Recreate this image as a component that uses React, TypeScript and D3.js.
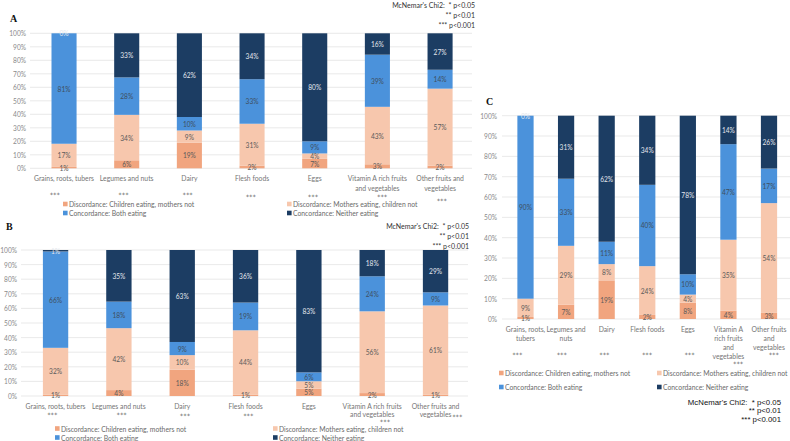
import React, { useEffect, useRef } from "react";
import * as d3 from "d3";

// segment order, bottom to top
const keys = ["childOnly", "motherOnly", "both", "neither"];
const legendNames = [
  "Discordance: Children eating, mothers not",
  "Discordance: Mothers eating, children not",
  "Concordance: Both eating",
  "Concordance: Neither eating",
];
const colors = ["#F1A57F", "#F7C7AD", "#4B92DB", "#1C3D63"];
const labelColors = ["#5a5a5a", "#5a5a5a", "#3f4f60", "#e4e8ee"];

const yTicks = [0, 10, 20, 30, 40, 50, 60, 70, 80, 90, 100];

const foodGroups = [
  "Grains, roots, tubers",
  "Legumes and nuts",
  "Dairy",
  "Flesh foods",
  "Eggs",
  "Vitamin A rich fruits and vegetables",
  "Other fruits and vegetables",
];
const wideLabels = [
  ["Grains, roots, tubers"],
  ["Legumes and nuts"],
  ["Dairy"],
  ["Flesh foods"],
  ["Eggs"],
  ["Vitamin A rich fruits", "and vegetables"],
  ["Other fruits and", "vegetables"],
];
const narrowLabels = [
  ["Grains, roots,", "tubers"],
  ["Legumes and", "nuts"],
  ["Dairy"],
  ["Flesh foods"],
  ["Eggs"],
  ["Vitamin A", "rich fruits", "and", "vegetables"],
  ["Other fruits", "and", "vegetables"],
];

// panel A
const aChildOnly = [1, 6, 19, 2, 7, 3, 2];
const aMotherOnly = [17, 34, 9, 31, 4, 43, 57];
const aBoth = [81, 28, 10, 33, 9, 39, 14];
const aNeither = [0, 33, 62, 34, 80, 16, 27];
const aStars = ["***", "***", "***", "***", "***", "***", "***"];

// panel B
const bChildOnly = [1, 4, 18, 1, 5, 2, 1];
const bMotherOnly = [32, 42, 10, 44, 5, 56, 61];
const bBoth = [66, 18, 9, 19, 6, 24, 9];
const bNeither = [1, 35, 63, 36, 83, 18, 29];
const bStars = ["***", "***", "***", "***", "", "***", "***"];

// panel C
const cChildOnly = [1, 7, 19, 2, 8, 4, 3];
const cMotherOnly = [9, 29, 8, 24, 4, 35, 54];
const cBoth = [90, 33, 11, 40, 10, 47, 17];
const cNeither = [0, 31, 62, 34, 78, 14, 26];
const cStars = ["***", "***", "***", "***", "***", "***", "***"];

const noteLines = ["McNemar's Chi2:  * p<0.05", "** p<0.01", "*** p<0.001"];

const FONT = "Lato, 'Open Sans', sans-serif";

function rows(child, mother, both, neither) {
  return foodGroups.map((g, i) => ({
    group: g,
    childOnly: child[i],
    motherOnly: mother[i],
    both: both[i],
    neither: neither[i],
  }));
}

const panels = [
  {
    title: "A", titleX: 10, titleY: 22,
    data: rows(aChildOnly, aMotherOnly, aBoth, aNeither),
    labels: wideLabels, stars: aStars,
    x0: 32.7, x1: 471.4, yTop: 33.3, yBottom: 168.3,
    tickX: 26, gridX0: 30, gridX1: 472,
    catY: 178, catStep: 9.5,
    starPos: [[-9, 194], [-3, 194], [-1.5, 194], [-1, 196], [-1.5, 196], [5, 196], [2, 200]],
    legendRows: [204, 213], legendCols: [63, 287],
    note: { x: 475, ys: [4.5, 14.5, 24.5], size: 7, font: FONT, color: "#333" },
  },
  {
    title: "B", titleX: 6, titleY: 230,
    data: rows(bChildOnly, bMotherOnly, bBoth, bNeither),
    labels: wideLabels, stars: bStars,
    x0: 23.9, x1: 467.2, yTop: 250, yBottom: 396,
    tickX: 17, gridX0: 21, gridX1: 468,
    catY: 406, catStep: 8,
    starPos: [[-3, 414], [3, 414], [3, 415.5], [3, 415.5], [0, 415.5], [13, 421], [22, 416.5]],
    legendRows: [428.5, 437.5], legendCols: [55, 273],
    note: { x: 469, ys: [226, 236, 246], size: 7, font: FONT, color: "#333" },
  },
  {
    title: "C", titleX: 486, titleY: 105,
    data: rows(cChildOnly, cMotherOnly, cBoth, cNeither),
    labels: narrowLabels, stars: cStars,
    x0: 505.2, x1: 789.3, yTop: 115.7, yBottom: 319,
    tickX: 497, gridX0: 502, gridX1: 790,
    catY: 329, catStep: 9,
    starPos: [[-8, 354], [-4, 354], [-2, 354], [0, 354], [2, 354], [10, 363.5], [5, 354]],
    legendRows: [373, 387], legendCols: [499, 657],
    note: { x: 781, ys: [402, 410.5, 419], size: 7.8, font: "'Liberation Sans', Arial, sans-serif", color: "#111" },
  },
];

function drawPanel(root, p) {
  const g = root.append("g");

  const x = d3
    .scaleBand()
    .domain(foodGroups)
    .range([p.x0, p.x1])
    .paddingInner(0.6)
    .paddingOuter(0.3);
  const y = d3.scaleLinear().domain([0, 1]).range([p.yBottom, p.yTop]);
  const yPct = d3.scaleLinear().domain([0, 100]).range([p.yBottom, p.yTop]);

  // panel letter
  g.append("text")
    .attr("x", p.titleX)
    .attr("y", p.titleY)
    .attr("font-family", "'Liberation Serif', 'DejaVu Serif', serif")
    .attr("font-weight", "bold")
    .attr("font-size", 10)
    .attr("fill", "#111")
    .text(p.title);

  // gridlines + y labels
  g.selectAll(".grid")
    .data(yTicks)
    .enter()
    .append("line")
    .attr("x1", p.gridX0)
    .attr("x2", p.gridX1)
    .attr("y1", (d) => yPct(d))
    .attr("y2", (d) => yPct(d))
    .attr("stroke", "#e3e3e3")
    .attr("stroke-width", 0.8);

  g.selectAll(".ytick")
    .data(yTicks)
    .enter()
    .append("text")
    .attr("x", p.tickX)
    .attr("y", (d) => yPct(d))
    .attr("dominant-baseline", "central")
    .attr("text-anchor", "end")
    .attr("font-family", FONT)
    .attr("font-size", 6.6)
    .attr("fill", "#8a8a8a")
    .text((d) => d + "%");

  // stacked bars, normalised to 100%
  const series = d3.stack().keys(keys).offset(d3.stackOffsetExpand)(p.data);

  series.forEach((s, si) => {
    const layer = g.append("g").attr("fill", colors[si]);
    layer
      .selectAll("rect")
      .data(s)
      .enter()
      .append("rect")
      .attr("x", (d) => x(d.data.group))
      .attr("width", x.bandwidth())
      .attr("y", (d) => y(d[1]))
      .attr("height", (d) => y(d[0]) - y(d[1]));
  });

  series.forEach((s, si) => {
    g.append("g")
      .selectAll("text")
      .data(s)
      .enter()
      .append("text")
      .attr("x", (d) => x(d.data.group) + x.bandwidth() / 2)
      .attr("y", (d) => (y(d[0]) + y(d[1])) / 2)
      .attr("dominant-baseline", "central")
      .attr("text-anchor", "middle")
      .attr("font-family", FONT)
      .attr("font-size", 6.6)
      .attr("fill", labelColors[si])
      .text((d) => d.data[keys[si]] + "%");
  });

  // category labels
  p.labels.forEach((lines, i) => {
    const t = g
      .append("text")
      .attr("text-anchor", "middle")
      .attr("font-family", FONT)
      .attr("font-size", 6.8)
      .attr("fill", "#767676");
    lines.forEach((line, li) => {
      t.append("tspan")
        .attr("x", x(foodGroups[i]) + x.bandwidth() / 2)
        .attr("y", p.catY + li * p.catStep)
        .attr("dominant-baseline", "central")
        .text(line);
    });
  });

  // significance stars
  p.stars.forEach((s, i) => {
    if (!s) return;
    g.append("text")
      .attr("x", x(foodGroups[i]) + x.bandwidth() / 2 + p.starPos[i][0])
      .attr("y", p.starPos[i][1])
      .attr("dominant-baseline", "central")
      .attr("text-anchor", "middle")
      .attr("font-family", "'DejaVu Sans', sans-serif")
      .attr("font-size", 6)
      .attr("letter-spacing", 0.4)
      .attr("fill", "#555")
      .text(s);
  });

  // legend: two columns, two rows
  keys.forEach((k, ki) => {
    const lx = p.legendCols[ki % 2];
    const ly = p.legendRows[Math.floor(ki / 2)];
    g.append("rect")
      .attr("x", lx)
      .attr("y", ly - 2.3)
      .attr("width", 4.6)
      .attr("height", 4.6)
      .attr("fill", colors[ki]);
    g.append("text")
      .attr("x", lx + 6)
      .attr("y", ly)
      .attr("dominant-baseline", "central")
      .attr("font-family", FONT)
      .attr("font-size", 6.8)
      .attr("fill", "#6a6a6a")
      .text(legendNames[ki]);
  });

  // test note
  noteLines.forEach((line, li) => {
    g.append("text")
      .attr("x", p.note.x)
      .attr("y", p.note.ys[li])
      .attr("dominant-baseline", "central")
      .attr("text-anchor", "end")
      .attr("font-family", p.note.font)
      .attr("font-size", p.note.size)
      .attr("fill", p.note.color)
      .attr("xml:space", "preserve")
      .style("white-space", "pre")
      .text(line);
  });
}

export default function App() {
  const ref = useRef(null);

  useEffect(() => {
    const svg = d3.select(ref.current);
    svg.selectAll("*").remove();
    svg.append("rect").attr("width", 790).attr("height", 441).attr("fill", "#fff");
    panels.forEach((p) => drawPanel(svg, p));
  }, []);

  return (
    <svg
      ref={ref}
      width={790}
      height={441}
      style={{ position: "absolute", left: 0, top: 0, display: "block" }}
    />
  );
}
